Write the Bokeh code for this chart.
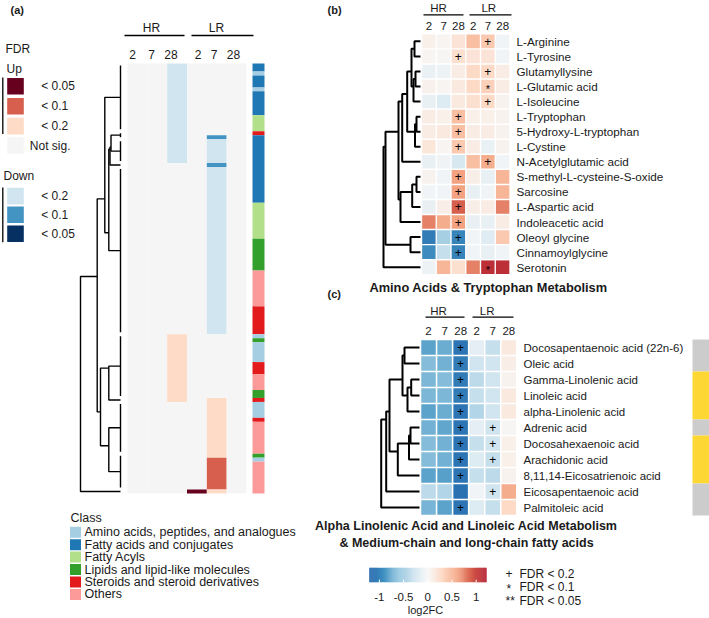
import numpy as np
from bokeh.plotting import figure
from bokeh.models import Range1d, ColumnDataSource, LinearColorMapper
from bokeh.core.properties import value
from bokeh.embed import file_html
from bokeh.resources import INLINE

FONT = "Liberation Sans"
TXT = "#1a1a1a"

# ---------------------------------------------------------------- data
GROUPS = ["HR", "LR"]
DAYS = ["2", "7", "28"]

# FDR levels of panel (a): 0..2 up, 3 not sig., 4..6 down
FDR_LABELS = ["< 0.05", "< 0.1", "< 0.2", "Not sig.", "< 0.2", "< 0.1", "< 0.05"]
FDR_COLORS = ["#67001f", "#d6604d", "#fddbc7", "#f5f5f5", "#d1e5f0", "#4393c3", "#053061"]

A_NROWS = 108
# significant runs in panel (a): column, first row, last row, FDR level
a_seg_col = [2, 4, 4, 4, 4, 2, 4, 4, 3, 4]
a_seg_first = [0, 18, 19, 25, 26, 68, 84, 99, 107, 107]
a_seg_last = [24, 18, 24, 25, 67, 84, 98, 106, 107, 107]
a_seg_level = [4, 5, 4, 5, 4, 2, 2, 1, 0, 2]

CLASS_NAMES = ["Amino acids, peptides, and analogues", "Fatty acids and conjugates",
               "Fatty Acyls", "Lipids and lipid-like molecules",
               "Steroids and steroid derivatives", "Others"]
CLASS_COLORS = ["#a6cee3", "#1f78b4", "#b2df8a", "#33a02c", "#e31a1c", "#fb9a99"]
class_run_class = [1, 0, 1, 0, 1, 2, 4, 1, 2, 3, 5, 4, 0, 3, 0, 4, 5, 3, 4, 0, 4, 5, 3, 0, 5]
class_run_length = [2, 1, 3, 1, 6, 4, 1, 17, 9, 8, 9, 7, 1, 1, 5, 3, 4, 2, 1, 4, 1, 8, 1, 1, 8]

# dendrogram of panel (a): leaf clusters (row ranges) and merges
a_leaf_first = [0, 17, 19, 25, 26, 68, 84, 85, 98, 107]
a_leaf_last = [16, 18, 24, 25, 67, 83, 84, 97, 106, 107]
a_merge_left = [1, 10, 11, 0, 5, 7, 14, 13, 17]
a_merge_right = [2, 3, 4, 12, 6, 8, 15, 16, 9]
a_merge_height = [9.5, 10.5, 11.7, 15.7, 11.7, 11.7, 20.0, 23.3, 40.0]

# panel (b)
b_names = ["L-Arginine", "L-Tyrosine", "Glutamyllysine", "L-Glutamic acid", "L-Isoleucine",
           "L-Tryptophan", "5-Hydroxy-L-tryptophan", "L-Cystine", "N-Acetylglutamic acid",
           "S-methyl-L-cysteine-S-oxide", "Sarcosine", "L-Aspartic acid", "Indoleacetic acid",
           "Oleoyl glycine", "Cinnamoylglycine", "Serotonin"]
b_log2fc = [
    [0.08, 0.03, 0.20, 0.45, 0.40, -0.05],
    [0.03, 0.02, 0.25, 0.20, 0.20, -0.05],
    [-0.10, -0.08, 0.12, 0.30, 0.30, 0.12],
    [0.07, 0.03, 0.15, 0.30, 0.35, 0.12],
    [-0.12, -0.20, 0.15, 0.25, 0.30, 0.05],
    [0.12, 0.08, 0.45, 0.08, 0.08, 0.05],
    [0.12, 0.15, 0.45, 0.12, 0.12, 0.05],
    [0.18, 0.03, 0.40, 0.12, -0.10, 0.05],
    [-0.12, -0.06, -0.25, 0.45, 0.55, -0.05],
    [0.05, -0.05, 0.60, 0.10, -0.12, 0.50],
    [-0.05, -0.05, 0.60, -0.12, -0.05, 0.50],
    [-0.12, 0.10, 0.90, 0.10, 0.12, 0.75],
    [0.75, 0.55, 0.60, -0.12, -0.12, 0.12],
    [-1.05, -0.50, -1.00, -0.05, -0.18, 0.40],
    [-0.95, -0.35, -1.00, -0.05, -0.12, -0.05],
    [-0.08, 0.50, 0.25, 0.75, 1.10, 1.10],
]
b_marks = [
    ["", "", "", "", "+", ""], ["", "", "+", "", "", ""], ["", "", "", "", "+", ""],
    ["", "", "", "", "*", ""], ["", "", "", "", "+", ""], ["", "", "+", "", "", ""],
    ["", "", "+", "", "", ""], ["", "", "+", "", "", ""], ["", "", "", "", "+", ""],
    ["", "", "+", "", "", ""], ["", "", "+", "", "", ""], ["", "", "+", "", "", ""],
    ["", "", "+", "", "", ""], ["", "", "+", "", "", ""], ["", "", "+", "", "", ""],
    ["", "", "", "", "*", ""],
]
b_merge_left = [0, 2, 17, 16, 5, 20, 19, 22, 9, 24, 25, 23, 13, 27, 29]
b_merge_right = [1, 3, 4, 18, 6, 7, 21, 8, 10, 11, 12, 26, 14, 28, 15]
b_merge_height = [6, 5, 7, 9, 4, 5.5, 13.3, 18.3, 4, 8.3, 20, 22, 10, 35, 37]

# panel (c)
c_names = ["Docosapentaenoic acid (22n-6)", "Oleic acid", "Gamma-Linolenic acid",
           "Linoleic acid", "alpha-Linolenic acid", "Adrenic acid", "Docosahexaenoic acid",
           "Arachidonic acid", "8,11,14-Eicosatrienoic acid", "Eicosapentaenoic acid",
           "Palmitoleic acid"]
c_log2fc = [
    [-0.80, -0.75, -1.10, -0.15, -0.35, 0.15],
    [-0.65, -0.72, -1.05, -0.30, -0.30, 0.10],
    [-0.68, -0.65, -1.05, -0.40, -0.30, 0.05],
    [-0.68, -0.68, -1.05, -0.35, -0.30, 0.15],
    [-0.80, -0.75, -1.10, -0.45, -0.30, 0.15],
    [-0.72, -0.78, -1.10, -0.15, -0.30, 0.02],
    [-0.65, -0.72, -1.10, -0.35, -0.30, 0.08],
    [-0.65, -0.72, -1.10, -0.20, -0.35, 0.08],
    [-0.80, -0.82, -1.10, -0.35, -0.40, 0.05],
    [-0.40, -0.45, -1.12, -0.05, -0.30, 0.55],
    [-0.70, -0.80, -1.10, -0.20, -0.35, 0.30],
]
c_marks = [
    ["", "", "+", "", "", ""], ["", "", "+", "", "", ""], ["", "", "+", "", "", ""],
    ["", "", "+", "", "", ""], ["", "", "+", "", "", ""], ["", "", "+", "", "+", ""],
    ["", "", "+", "", "+", ""], ["", "", "+", "", "+", ""], ["", "", "+", "", "", ""],
    ["", "", "", "", "+", ""], ["", "", "+", "", "", ""],
]
c_pathway = [0, 0, 1, 1, 1, 0, 1, 1, 1, 0, 0]
PATHWAY_COLORS = ["#cccccc", "#fdd835"]
c_merge_left = [0, 2, 12, 11, 5, 15, 16, 14, 18, 19]
c_merge_right = [1, 3, 4, 13, 6, 7, 8, 17, 9, 10]
c_merge_height = [15, 8.3, 12, 17, 9, 10.5, 21.7, 30, 33.3, 38.3]

CB_TICKS = [-1, -0.5, 0, 0.5, 1]
CB_LOW, CB_HIGH = -1.2, 1.2
SIG_SYMBOLS = ["+", "*", "**"]
SIG_LABELS = ["FDR < 0.2", "FDR < 0.1", "FDR < 0.05"]

# ---------------------------------------------------------------- helpers
BLUE_TO_RED = ['#2166ac', '#4393c3', '#92c5de', '#d1e5f0', '#f7f7f7',
               '#fddbc7', '#f4a582', '#d6604d', '#b2182b']


def interp_palette(pal, n):
    rgb = np.array([[int(c[i:i + 2], 16) for i in (1, 3, 5)] for c in pal], float)
    out = []
    for t in np.linspace(0, len(pal) - 1, n):
        i = min(int(t), len(pal) - 2)
        f = t - i
        c = rgb[i] * (1 - f) + rgb[i + 1] * f
        out.append("#%02x%02x%02x" % tuple(int(round(v)) for v in c))
    return out


mapper = LinearColorMapper(palette=interp_palette(BLUE_TO_RED, 256), low=CB_LOW, high=CB_HIGH)

p = figure(width=709, height=618, x_range=Range1d(0, 709), y_range=Range1d(618, 0),
           output_backend="svg", toolbar_location=None, min_border=0,
           x_axis_location=None, y_axis_location=None)
p.grid.visible = False
p.outline_line_color = None
p.background_fill_color = "white"
p.border_fill_color = "white"


def T(xs, ys, texts, size=12, align="left", style="normal", color=TXT):
    p.text(x=list(xs), y=list(ys), text=list(texts), text_font=value(FONT),
           text_font_size=f"{size}px", text_font_style=style, text_align=align,
           text_baseline="middle", text_color=color)


def dendro(leaf_lo, leaf_hi, lefts, rights, heights, leaf_x, k=1.0):
    lo, hi = list(leaf_lo), list(leaf_hi)
    ny = [(a + b) / 2 for a, b in zip(lo, hi)]
    nx = [leaf_x] * len(lo)
    xs, ys = [], []
    for a, b in zip(leaf_lo, leaf_hi):
        if b > a:
            xs.append([leaf_x, leaf_x]); ys.append([a, b])
    for a, b, h in zip(lefts, rights, heights):
        x = leaf_x - h * k
        xs.append([nx[a], x, x, nx[b]]); ys.append([ny[a], ny[a], ny[b], ny[b]])
        lo.append(min(lo[a], lo[b])); hi.append(max(hi[a], hi[b]))
        ny.append((lo[-1] + hi[-1]) / 2); nx.append(x)
    return xs, ys


def runs(seq):
    """consecutive runs of equal values -> (start, end_exclusive, value)"""
    out, s = [], 0
    for i in range(1, len(seq) + 1):
        if i == len(seq) or seq[i] != seq[s]:
            out.append((s, i, seq[s])); s = i
    return out


# ---------------------------------------------------------------- panel (a)
AX0, AY0 = 127.0, 63.0
ACW = 119.0 / 6
ARH = 430.0 / A_NROWS
level = np.full((A_NROWS, 6), 3, dtype=int)
for c, r0, r1, lv in zip(a_seg_col, a_seg_first, a_seg_last, a_seg_level):
    level[r0:r1 + 1, c] = lv
L, R, TOP, BOT, COL = [], [], [], [], []
for c in range(6):
    for s, e, lv in runs(list(level[:, c])):
        L.append(AX0 + c * ACW); R.append(AX0 + (c + 1) * ACW)
        TOP.append(AY0 + s * ARH); BOT.append(AY0 + e * ARH)
        COL.append(FDR_COLORS[lv])
p.quad(left=L, right=R, top=TOP, bottom=BOT, fill_color=COL, line_color=None)

# class side bar
row_class = []
for cl, n in zip(class_run_class, class_run_length):
    row_class += [cl] * n
rr = runs(row_class)
p.quad(left=[252] * len(rr), right=[264] * len(rr),
       top=[AY0 + s * ARH for s, e, v in rr], bottom=[AY0 + e * ARH for s, e, v in rr],
       fill_color=[CLASS_COLORS[v] for s, e, v in rr], line_color=None)

# header
T([151, 216], [27, 27], GROUPS, size=12, align="center")
p.segment(x0=[124, 191], y0=[35, 35], x1=[184, 253], y1=[35, 35], line_color="black", line_width=1.3)
T([132, 151, 170.5, 197.5, 213.5, 233], [54] * 6, DAYS * 2, size=12, align="center")
T([10], [9.5], ["(a)"], size=11, style="bold")

# dendrogram (a)
rc = lambda r: AY0 + (r + 0.5) * ARH
xs, ys = dendro([rc(r) for r in a_leaf_first], [rc(r) for r in a_leaf_last],
                a_merge_left, a_merge_right, a_merge_height, 120.0)
p.multi_line(xs, ys, line_color="black", line_width=1.4)

# FDR legend (a)
LX = 6.7
T([5], [48], ["FDR"], size=12)
T([6], [68], ["Up"], size=12)
T([3], [175], ["Down"], size=12)
up_tops = [77.5, 97.5, 117.3, 136.7]
dn_tops = [187.3, 206.0, 225.0]
tops = up_tops + dn_tops
p.quad(left=[LX] * 7, right=[LX + 16.6] * 7, top=tops, bottom=[t + 16.6 for t in tops],
       fill_color=FDR_COLORS, line_color=None)
lab_x = [40.7, 40.7, 40.7, 29.3, 40.7, 40.7, 40.7]
T(lab_x, [t + 8.3 for t in tops], FDR_LABELS, size=12)
p.segment(x0=[2.3, 2.3], y0=[77, 187], x1=[2.3, 2.3], y1=[133.5, 241.7], line_color="black", line_width=1.3)

# class legend
T([70], [517], ["Class"], size=12.5)
cy = [531.7 + i * 12.45 for i in range(6)]
p.quad(left=[69.5] * 6, right=[80.5] * 6, top=[y - 5.5 for y in cy], bottom=[y + 5.5 for y in cy],
       fill_color=CLASS_COLORS, line_color=None)
T([84] * 6, cy, CLASS_NAMES, size=12.5)

# ---------------------------------------------------------------- heatmap helper


def heat(vals, marks, x0, px, w, y0, py, h):
    xs_, ys_, vs = [], [], []
    mx, my, ax, ay = [], [], [], []
    for i, row in enumerate(vals):
        for j, v in enumerate(row):
            xs_.append(x0 + (j + 0.5) * px); ys_.append(y0 + (i + 0.5) * py); vs.append(v)
            m = marks[i][j]
            if m == "+":
                mx.append(x0 + (j + 0.5) * px); my.append(y0 + (i + 0.5) * py)
            elif m:
                ax.append(x0 + (j + 0.5) * px); ay.append(y0 + (i + 0.5) * py + 2.5)
    src = ColumnDataSource(dict(x=xs_, y=ys_, v=vs))
    p.rect(x="x", y="y", width=w, height=h, source=src, line_color=None,
           fill_color={"field": "v", "transform": mapper})
    T(mx, my, ["+"] * len(mx), size=12, align="center", color="black")
    if ax:
        T(ax, ay, ["*"] * len(ax), size=11, align="center", color="black")


# ---------------------------------------------------------------- panel (b)
BX0, BPX, BW = 421.0, 14.75, 13.4
BY0, BPY, BH = 33.3, 15.06, 13.6
heat(b_log2fc, b_marks, BX0, BPX, BW, BY0, BPY, BH)
T([516] * len(b_names), [BY0 + (i + 0.5) * BPY for i in range(len(b_names))], b_names, size=11.7)
T([438, 488.3], [7, 7], GROUPS, size=11.5, align="center")
p.segment(x0=[423, 469], y0=[14.3, 14.3], x1=[463, 511], y1=[14.3, 14.3], line_color="black", line_width=1.3)
T([BX0 + (j + 0.5) * BPX for j in range(6)], [25] * 6, DAYS * 2, size=11.5, align="center")
T([327], [9], ["(b)"], size=11, style="bold")
yb = [BY0 + (i + 0.5) * BPY for i in range(len(b_names))]
xs, ys = dendro(yb, yb, b_merge_left, b_merge_right, b_merge_height, 420.0)
p.multi_line(xs, ys, line_color="black", line_width=2)
T([488], [287], ["Amino Acids & Tryptophan Metabolism"], size=12.8, align="center", style="bold")

# ---------------------------------------------------------------- panel (c)
CX0, CPX, CW = 420.0, 16.05, 14.5
CY0, CPY, CH = 339.0, 16.0, 14.5
heat(c_log2fc, c_marks, CX0, CPX, CW, CY0, CPY, CH)
yc = [CY0 + (i + 0.5) * CPY for i in range(len(c_names))]
T([523] * len(c_names), yc, c_names, size=11.5)
T([438, 486.7], [310.5, 310.5], GROUPS, size=11.5, align="center")
p.segment(x0=[425, 472], y0=[316.7, 316.7], x1=[464, 513], y1=[316.7, 316.7], line_color="black", line_width=1.3)
T([CX0 + (j + 0.5) * CPX for j in range(6)], [330.7] * 6, DAYS * 2, size=11.5, align="center")
T([327], [293], ["(c)"], size=11, style="bold")
xs, ys = dendro(yc, yc, c_merge_left, c_merge_right, c_merge_height, 419.0)
p.multi_line(xs, ys, line_color="black", line_width=2)
pr = runs(c_pathway)
p.quad(left=[692] * len(pr), right=[709] * len(pr),
       top=[CY0 + s * CPY for s, e, v in pr], bottom=[CY0 + e * CPY for s, e, v in pr],
       fill_color=[PATHWAY_COLORS[v] for s, e, v in pr], line_color=None)
T([466, 466], [525, 542], ["Alpha Linolenic Acid and Linoleic Acid Metabolism",
                           "& Medium-chain and long-chain fatty acids"],
  size=12.5, align="center", style="bold")

# ---------------------------------------------------------------- colour bar
CB0, CBS = 427.3, 48.4   # x of value 0, px per unit
CBT, CBB = 567.3, 581.7
vals = np.linspace(CB_LOW, CB_HIGH, 121)
step = (CB_HIGH - CB_LOW) / 120
src = ColumnDataSource(dict(left=CB0 + (vals - step / 2) * CBS, right=CB0 + (vals + step / 2) * CBS + 0.3, v=vals))
p.quad(left="left", right="right", top=CBT, bottom=CBB, source=src, line_color=None,
       fill_color={"field": "v", "transform": mapper})
tx = [CB0 + t * CBS for t in CB_TICKS]
p.segment(x0=tx, y0=[CBB - 2.5] * 5, x1=tx, y1=[CBB] * 5, line_color="white", line_width=1)
T(tx, [596] * 5, ["-1", "-0.5", "0", "0.5", "1"], size=11.5, align="center")
T([425], [609], ["log2FC"], size=11, align="center")

# significance legend
T([505, 506, 505], [573, 588, 600], SIG_SYMBOLS, size=12)
T([519, 519, 519], [573, 586, 600], SIG_LABELS, size=12)

open("out.html", "w").write(file_html(p, INLINE))
